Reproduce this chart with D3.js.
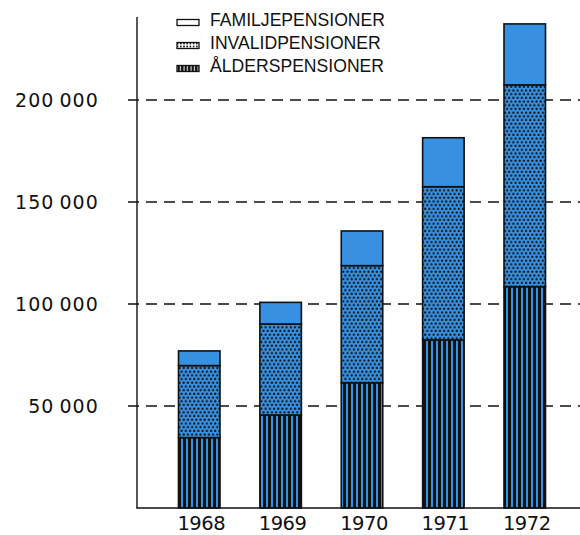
<!DOCTYPE html>
<html><head><meta charset="utf-8">
<script src="https://cdn.jsdelivr.net/npm/d3@7"></script>
<style>html,body{margin:0;padding:0;background:#fff;}svg{display:block;}</style>
</head><body>
<svg id="c" width="580" height="535"></svg>
<script>
const years = ["1968","1969","1970","1971","1972"];
const alderspensioner = [34500, 45600, 61400, 82400, 108500];
const invalidpensioner = [35300, 44600, 57400, 75100, 98900];
const familjepensioner = [7200, 10600, 17000, 24000, 29900];
const seriesNames = ["FAMILJEPENSIONER","INVALIDPENSIONER","ÅLDERSPENSIONER"];
const yTicks = [50000, 100000, 150000, 200000];
const yTickLabels = ["50\u2009000","100\u2009000","150\u2009000","200\u2009000"];

const blue = "#3790e0";
const svg = d3.select("#c");
const defs = svg.append("defs");

// dotted pattern (bars)
const pd = defs.append("pattern").attr("id","dots").attr("patternUnits","userSpaceOnUse")
  .attr("width",4.2).attr("height",7.4);
pd.append("rect").attr("width",4.2).attr("height",7.4).attr("fill",blue);
pd.append("circle").attr("cx",1).attr("cy",1.6).attr("r",1.15).attr("fill","#111");
pd.append("circle").attr("cx",3.1).attr("cy",5.3).attr("r",1.15).attr("fill","#111");
// striped pattern (bars)
const ps = defs.append("pattern").attr("id","stripes").attr("patternUnits","userSpaceOnUse")
  .attr("width",5).attr("height",10);
ps.append("rect").attr("width",5).attr("height",10).attr("fill","#111");
ps.append("rect").attr("x",1).attr("width",2).attr("height",10).attr("fill",blue);
// legend patterns
const pdl = defs.append("pattern").attr("id","dotsL").attr("patternUnits","userSpaceOnUse")
  .attr("width",3.2).attr("height",3);
pdl.append("rect").attr("width",3.2).attr("height",3).attr("fill","#fff");
pdl.append("circle").attr("cx",1.6).attr("cy",1.5).attr("r",0.9).attr("fill","#111");
const psl = defs.append("pattern").attr("id","stripesL").attr("patternUnits","userSpaceOnUse")
  .attr("width",3.5).attr("height",10);
psl.append("rect").attr("width",3.5).attr("height",10).attr("fill","#111");
psl.append("rect").attr("x",1.5).attr("width",1).attr("height",10).attr("fill","#fff");

const x = d3.scaleBand().domain(years).range([137, 587]).paddingInner(0.49).paddingOuter(0.51);
const y = d3.scaleLinear().domain([0, 200000]).range([508, 100]);

// gridlines
svg.append("g").selectAll("line").data(yTicks).join("line")
  .attr("x1",128).attr("x2",580).attr("y1",d=>y(d)).attr("y2",d=>y(d))
  .attr("stroke","#111").attr("stroke-width",1.3).attr("stroke-dasharray","11,7");

// stacked data
const rows = years.map((yr,i)=>({year:yr, a:alderspensioner[i], inv:invalidpensioner[i], f:familjepensioner[i]}));
const stack = d3.stack().keys(["a","inv","f"])(rows);
const fills = {a:"url(#stripes)", inv:"url(#dots)", f:blue};

const g = svg.append("g");
stack.forEach(layer=>{
  g.append("g").selectAll("rect").data(layer).join("rect")
    .attr("x",d=>x(d.data.year)).attr("width",x.bandwidth())
    .attr("y",d=>y(d[1])).attr("height",d=>y(d[0])-y(d[1]))
    .attr("fill",fills[layer.key]).attr("stroke","#111").attr("stroke-width",1.6);
});

// axes
svg.append("line").attr("x1",137).attr("x2",137).attr("y1",17).attr("y2",y(0))
  .attr("stroke","#111").attr("stroke-width",1.4);
svg.append("line").attr("x1",136.3).attr("x2",580).attr("y1",y(0)).attr("y2",y(0))
  .attr("stroke","#111").attr("stroke-width",1.6);

// y labels
svg.append("g").selectAll("text").data(yTicks).join("text")
  .attr("x",99).attr("y",d=>y(d)+7).attr("text-anchor","end")
  .attr("font-family","DejaVu Sans").attr("font-size",19).attr("letter-spacing",1.1)
  .attr("fill","#111").text((d,i)=>yTickLabels[i]);

// x labels
svg.append("g").selectAll("text").data(years).join("text")
  .attr("x",d=>x(d)+x.bandwidth()/2+2).attr("y",530).attr("text-anchor","middle")
  .attr("font-family","DejaVu Sans").attr("font-size",19.5).attr("letter-spacing",-0.5)
  .attr("fill","#111").text(d=>d);

// legend
const legFills = ["#fff","url(#dotsL)","url(#stripesL)"];
const leg = svg.append("g");
const legY = [26, 49, 72];
seriesNames.forEach((n,i)=>{
  leg.append("rect").attr("x",177).attr("y",legY[i]-6.5).attr("width",22).attr("height",6)
    .attr("fill",legFills[i]).attr("stroke","#111").attr("stroke-width",1.3);
  leg.append("text").attr("x",210).attr("y",legY[i]).attr("font-family","Liberation Sans")
    .attr("font-size",17.6).attr("fill","#111").text(n);
});
</script>
</body></html>
